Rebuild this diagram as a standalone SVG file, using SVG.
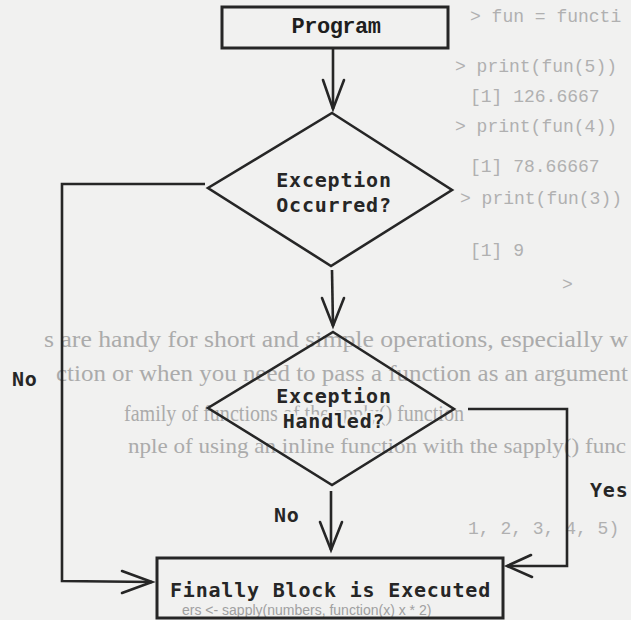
<svg xmlns="http://www.w3.org/2000/svg" width="631" height="620" viewBox="0 0 631 620">
  <style>
    .page { fill: #f1f1f0; }
    .code { font-family: "Liberation Mono", "DejaVu Sans Mono", monospace; font-size: 18px; fill: #b0b0b0; }
    .prose { font-family: "Liberation Serif", "DejaVu Serif", serif; font-size: 24px; fill: #ababab; }
    .shape { fill: none; stroke: #262626; stroke-width: 2.6; stroke-linejoin: miter; }
    .box { fill: none; stroke: #262626; stroke-width: 3; }
    .label { font-family: "DejaVu Sans Mono", "Liberation Mono", monospace; font-weight: bold; font-size: 20px; letter-spacing: 0.8px; fill: #262626; paint-order: stroke; stroke: #f1f1f0; stroke-width: 5px; stroke-linejoin: round; }
    .title { font-family: "Liberation Mono", "Courier New", monospace; font-weight: bold; font-size: 22px; letter-spacing: -0.5px; fill: #1e1e1e; }
    .wire { fill: none; stroke: #262626; stroke-width: 2.6; }
    .head { fill: none; stroke: #262626; stroke-width: 2.6; stroke-linecap: round; stroke-linejoin: miter; }
  </style>

  <!-- paper -->
  <rect class="page" x="0" y="0" width="631" height="620"/>

  <!-- printed page text behind the chart -->
  <g id="page-text">
    <text class="code" x="470" y="22">&gt; fun = functi</text>
    <text class="code" x="455" y="72">&gt; print(fun(5))</text>
    <text class="code" x="470" y="102">[1] 126.6667</text>
    <text class="code" x="455" y="132">&gt; print(fun(4))</text>
    <text class="code" x="470" y="172">[1] 78.66667</text>
    <text class="code" x="460" y="204">&gt; print(fun(3))</text>
    <text class="code" x="470" y="256">[1] 9</text>
    <text class="code" x="562" y="290">&gt;</text>
    <text class="prose" x="44" y="347" textLength="584" lengthAdjust="spacingAndGlyphs">s are handy for short and simple operations, especially w</text>
    <text class="prose" x="56" y="381" textLength="572" lengthAdjust="spacingAndGlyphs">ction or when you need to pass a function as an argument</text>
    <text class="prose" x="124" y="421" textLength="340" lengthAdjust="spacingAndGlyphs">family of functions of the apply() function</text>
    <text class="prose" x="128" y="453" style="font-size: 21px;" textLength="498" lengthAdjust="spacingAndGlyphs">nple of using an inline function with the sapply() func</text>
    <text class="code" x="468" y="534">1, 2, 3, 4, 5)</text>
    <text x="182" y="615" style="font-family: 'Liberation Sans', Arial, sans-serif; font-size: 14px; fill: #a0a0a0;">ers &lt;- sapply(numbers, function(x) x * 2)</text>
  </g>

  <!-- connectors -->
  <g id="connectors">
    <!-- Program -> Exception Occurred? -->
    <line class="wire" x1="333" y1="48" x2="333" y2="109"/>
    <polyline class="head" points="323,80 333,109 344,80"/>
    <!-- Exception Occurred? -> Exception Handled? -->
    <line class="wire" x1="332" y1="270" x2="333" y2="326"/>
    <polyline class="head" points="322,298 333,326 344,298"/>
    <!-- Exception Handled? (No) -> Finally -->
    <line class="wire" x1="331" y1="491" x2="331" y2="550"/>
    <polyline class="head" points="320,522 331,550 342,522"/>
    <!-- Exception Occurred? (No) -> Finally -->
    <polyline class="wire" points="205,184 62,184 62,581 152,582"/>
    <polyline class="head" points="122,571 152,582 122,593"/>
    <!-- Exception Handled? (Yes) -> Finally -->
    <polyline class="wire" points="468,409 567,409 567,566 507,566"/>
    <polyline class="head" points="531,555 507,566 532,577"/>
  </g>

  <g id="program">
    <rect class="box" x="222" y="7" width="226" height="41"/>
    <text class="title" x="336" y="33" text-anchor="middle">Program</text>
  </g>

  <g id="exception-occurred">
    <polygon class="shape" points="332,113 452,190 331,266 208,188"/>
    <text class="label" x="334" y="187" text-anchor="middle">Exception</text>
    <text class="label" x="334" y="212" text-anchor="middle">Occurred?</text>
  </g>

  <g id="exception-handled">
    <polygon class="shape" points="333,332 454,409 332,485 208,408"/>
    <text class="label" x="334" y="403" text-anchor="middle">Exception</text>
    <text class="label" x="334" y="428" text-anchor="middle">Handled?</text>
  </g>

  <g id="finally-block">
    <rect class="box" x="157" y="558" width="346" height="60"/>
    <text class="label" x="170" y="597">Finally Block is Executed</text>
  </g>

  <g id="edge-labels">
    <text class="label" x="12" y="386">No</text>
    <text class="label" x="274" y="522">No</text>
    <text class="label" x="590" y="497">Yes</text>
  </g>
</svg>
